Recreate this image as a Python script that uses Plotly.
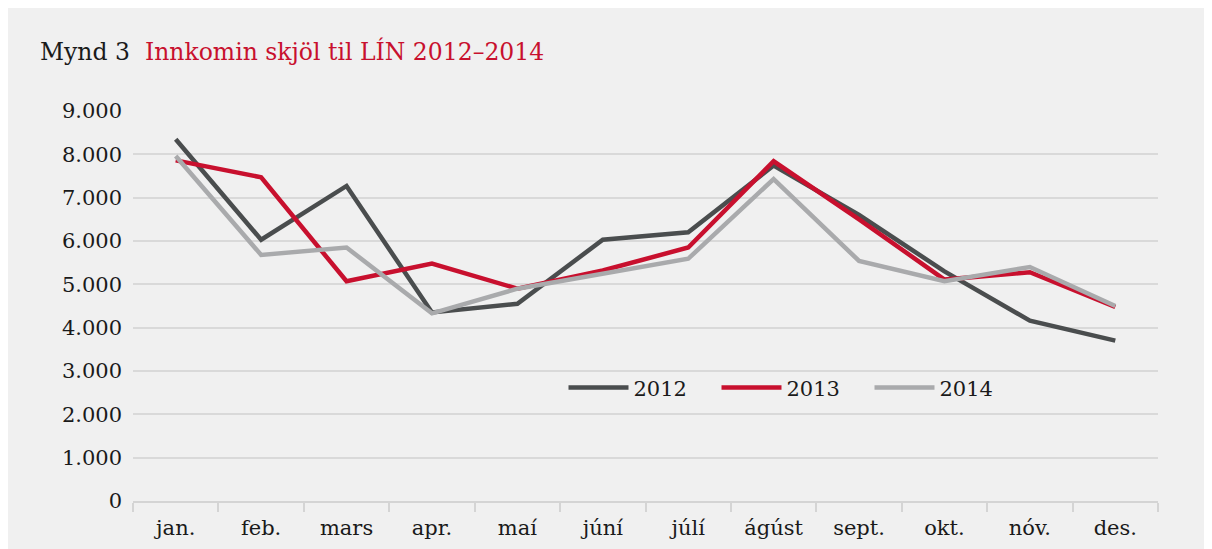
import plotly.graph_objects as go

# Data
months = ["jan.", "feb.", "mars", "apr.", "maí", "júní", "júlí", "ágúst", "sept.", "okt.", "nóv.", "des."]
y2012 = [8350, 6030, 7270, 4350, 4550, 6030, 6200, 7740, 6600, 5300, 4160, 3700]
y2013 = [7860, 7470, 5070, 5480, 4900, 5320, 5850, 7840, 6500, 5110, 5280, 4480]
y2014 = [7960, 5680, 5850, 4330, 4900, 5250, 5590, 7430, 5540, 5070, 5400, 4500]

series = [("2012", y2012, "#4a4d4e"), ("2013", y2013, "#c8102e"), ("2014", y2014, "#a9aaac")]

FONT = "DejaVu Serif"

fig = go.Figure()
for name, vals, col in series:
    fig.add_trace(go.Scatter(x=months, y=vals, name=name, mode="lines",
                             line=dict(color=col, width=4.5)))

fig.update_layout(
    width=1204, height=541,
    margin=dict(l=125, r=54, t=103, b=48, autoexpand=False),
    paper_bgcolor="#f0f0f0",
    plot_bgcolor="#f0f0f0",
    separators=",.",
    font=dict(family=FONT, size=21, color="#1a1a1a"),
    title=dict(
        text="Mynd 3\u00a0\u00a0<span style='color:#c8102e'>Innkomin skjöl til LÍN 2012–2014</span>",
        x=0.0266, xanchor="left", xref="container",
        y=0.9187, yanchor="middle", yref="container",
        font=dict(family=FONT, size=23.5, color="#1a1a1a"),
    ),
    showlegend=True,
    legend=dict(orientation="h", x=0.42, y=0.29, xanchor="left", yanchor="middle",
                bgcolor="rgba(0,0,0,0)", font=dict(family=FONT, size=21),
                itemwidth=60, entrywidth=78, entrywidthmode="pixels", traceorder="normal"),
    xaxis=dict(
        range=[-0.5, 11.5],
        showgrid=False, showline=True, linecolor="#d4d4d4", linewidth=1.5,
        ticks="outside", tickson="boundaries", ticklen=9, tickcolor="#d4d4d4", tickwidth=1.5,
        ticklabelstandoff=7, tickfont=dict(family=FONT, size=21), fixedrange=True,
    ),
    yaxis=dict(
        range=[0, 9000], dtick=1000, tickformat=",d",
        showgrid=True, gridcolor="#d9d9d9", gridwidth=1.5, zeroline=False,
        ticklabelstandoff=10, tickfont=dict(family=FONT, size=21), fixedrange=True,
    ),
)

fig.write_html("out.html", post_script="document.body.style.overflow='hidden';")
